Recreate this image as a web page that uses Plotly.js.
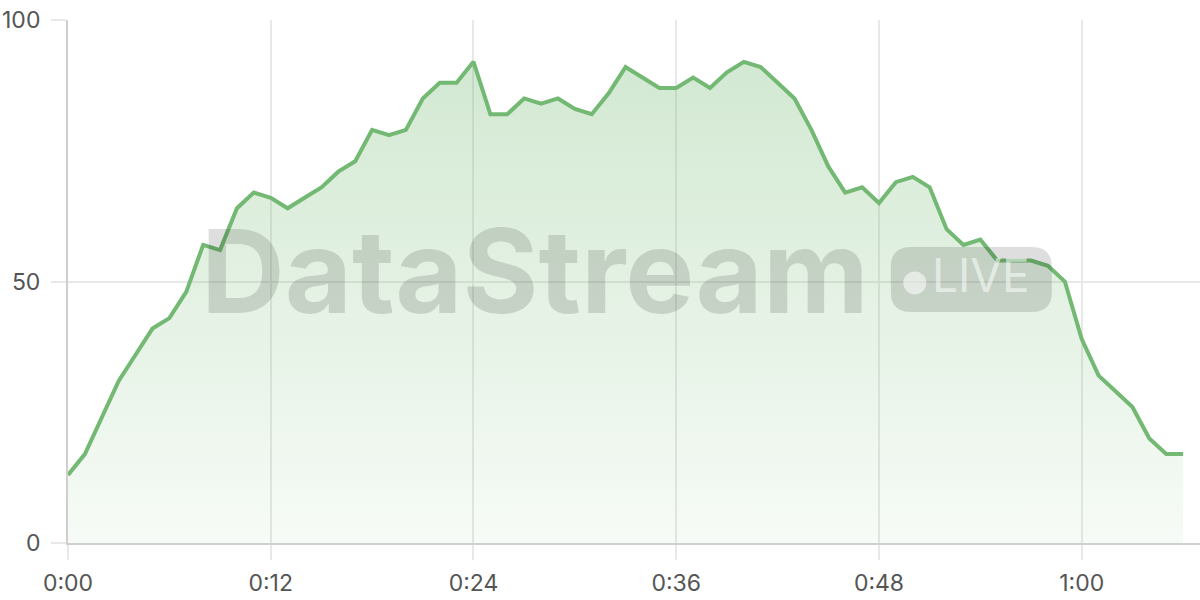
<!DOCTYPE html>
<html>
<head>
<meta charset="utf-8">
<script src="https://cdn.plot.ly/plotly-3.0.1.min.js"></script>
<style>
  html, body {margin: 0; padding: 0; background: #fff;}
  #chart {width: 1200px; height: 600px;}
</style>
</head>
<body>
<div id="chart"></div>
<script>
// elapsed minutes and the value read at each minute
var minutes = [0,1,2,3,4,5,6,7,8,9,10,11,12,13,14,15,16,17,18,19,20,21,22,23,24,25,26,27,28,29,30,31,32,33,34,35,36,37,38,39,40,41,42,43,44,45,46,47,48,49,50,51,52,53,54,55,56,57,58,59,60,61,62,63,64,65,66];
var values = [13,17,24,31,36,41,43,48,57,56,64,67,66,64,66,68,71,73,79,78,79,85,88,88,92,82,82,85,84,85,83,82,86,91,89,87,87,89,87,90,92,91,88,85,79,72,67,68,65,69,70,68,60,57,58,54,54,54,53,50,39,32,29,26,20,17,17];

var xTickVals = [0, 12, 24, 36, 48, 60];
var xTickText = ["0:00", "0:12", "0:24", "0:36", "0:48", "1:00"];
var yTickVals = [0, 50, 100];

var green = "rgb(115, 185, 115)";

var area = {
    x: minutes,
    y: values,
    type: "scatter",
    mode: "lines",
    fill: "tozeroy",
    fillgradient: {
        type: "vertical",
        colorscale: [[0, "rgba(115,185,115,0.06)"], [1, "rgba(115,185,115,0.32)"]]
    },
    line: {color: green, width: 4},
    hoverinfo: "x+y",
    showlegend: false
};

var tickFont = {family: "Inter, 'Open Sans', sans-serif", size: 23, color: "#555"};
var markGrey = "rgba(0,0,0,0.13)";

// rounded badge behind "LIVE" (pixel sized, anchored in paper space)
var badgeW = 161, badgeH = 65, r = 20;
var hw = badgeW / 2, hh = badgeH / 2;
var badgePath = "M " + (-hw + r) + " " + (-hh) +
    " L " + (hw - r) + " " + (-hh) + " Q " + hw + " " + (-hh) + " " + hw + " " + (-hh + r) +
    " L " + hw + " " + (hh - r) + " Q " + hw + " " + hh + " " + (hw - r) + " " + hh +
    " L " + (-hw + r) + " " + hh + " Q " + (-hw) + " " + hh + " " + (-hw) + " " + (hh - r) +
    " L " + (-hw) + " " + (-hh + r) + " Q " + (-hw) + " " + (-hh) + " " + (-hw + r) + " " + (-hh) + " Z";

var layout = {
    width: 1200,
    height: 600,
    margin: {l: 68, r: 0, t: 20, b: 57},
    paper_bgcolor: "#fff",
    plot_bgcolor: "#fff",
    xaxis: {
        range: [0, 67],
        tickvals: xTickVals,
        ticktext: xTickText,
        showgrid: true,
        gridcolor: "#e8e8e8",
        gridwidth: 1.5,
        ticks: "outside",
        ticklen: 15,
        tickcolor: "#e8e8e8",
        tickwidth: 1.5,
        showline: true,
        linecolor: "#cfcfcf",
        linewidth: 2,
        zeroline: false,
        tickfont: tickFont,
        ticklabelstandoff: 3,
        fixedrange: true
    },
    yaxis: {
        range: [0, 100],
        tickvals: yTickVals,
        showgrid: true,
        gridcolor: "#e8e8e8",
        gridwidth: 1.5,
        ticks: "outside",
        ticklen: 15,
        tickcolor: "#e8e8e8",
        tickwidth: 1.5,
        showline: true,
        linecolor: "#cfcfcf",
        linewidth: 2,
        zeroline: false,
        tickfont: tickFont,
        ticklabelstandoff: 6,
        fixedrange: true
    },
    shapes: [
        {
            type: "path",
            xref: "paper", yref: "paper",
            xsizemode: "pixel", ysizemode: "pixel",
            xanchor: 0.798, yanchor: 0.504,
            path: badgePath,
            fillcolor: markGrey,
            line: {width: 0}
        },
        {
            type: "circle",
            xref: "paper", yref: "paper",
            xsizemode: "pixel", ysizemode: "pixel",
            xanchor: 0.798, yanchor: 0.504,
            x0: -68, x1: -45, y0: -15, y1: 8,
            fillcolor: "rgba(255,255,255,0.55)",
            line: {width: 0}
        }
    ],
    annotations: [
        {
            text: "<b>DataStream</b>",
            xref: "paper", yref: "paper",
            x: 0.4125, y: 0.52,
            xanchor: "center", yanchor: "middle",
            showarrow: false,
            font: {family: "Inter, 'Open Sans', sans-serif", size: 116, color: markGrey}
        },
        {
            text: "LIVE",
            xref: "paper", yref: "paper",
            x: 0.8065, y: 0.512,
            xanchor: "center", yanchor: "middle",
            showarrow: false,
            font: {family: "Inter, 'Open Sans', sans-serif", size: 46, color: "rgba(255,255,255,0.55)"}
        }
    ]
};

var config = {displayModeBar: false, responsive: false};

Plotly.newPlot("chart", [area], layout, config);
</script>
</body>
</html>
